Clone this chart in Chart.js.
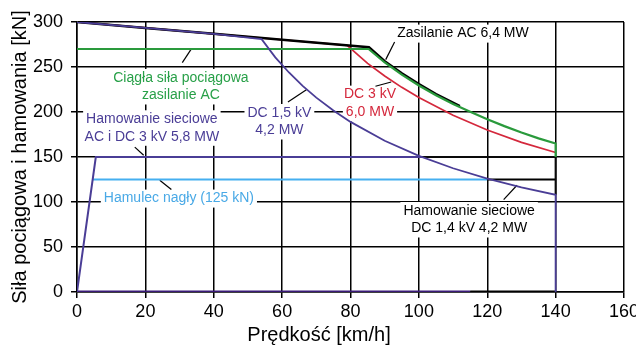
<!DOCTYPE html>
<html>
<head>
<meta charset="utf-8">
<script src="https://cdn.jsdelivr.net/npm/chart.js@4.4.0/dist/chart.umd.min.js"></script>
<style>
  html, body { margin: 0; padding: 0; background: #fff; }
</style>
</head>
<body>
<canvas id="myChart" width="636" height="346"></canvas>
<script>
// Zasilanie AC 6,4 MW (black)
const acSpeed = [0, 20, 40, 60, 85.4, 90, 95, 100, 105, 112];
const acForce = [300, 293.4, 286.9, 280.3, 272, 256.5, 243, 231, 220, 206.5];

// Ciągła siła pociągowa, zasilanie AC (green)
const acContSpeed = [0, 85.3, 90, 95, 100, 105, 110, 115, 120, 125, 130, 135, 140, 140];
const acContForce = [270, 270, 255, 241.5, 229.4, 218.6, 209, 200.3, 192, 184.3, 177.2, 170.7, 165, 150];

// DC 3 kV 6,0 MW (red)
const dc3Speed = [0, 20, 40, 60, 79, 85, 90, 95, 100, 110, 120, 130, 140];
const dc3Force = [300, 293.4, 286.9, 280.3, 274, 254, 240, 227.4, 216, 196.4, 180, 166.2, 155];

// DC 1,5 kV 4,2 MW (purple)
const dc15Speed = [0, 20, 40, 54, 58, 62, 66, 70, 75, 80, 90, 100, 110, 120, 130, 140, 140];
const dc15Force = [300, 293.4, 286.9, 281, 260.7, 243.9, 229.1, 216, 201.6, 189, 168, 151.2, 137.5, 126, 116.3, 108, 0];

// Hamowanie sieciowe AC i DC 3 kV 5,8 MW (purple)
const brakeSpeed = [0, 5.5, 101];
const brakeForce = [0, 150, 150];

// zero line
const zeroSpeed = [0, 115];
const zeroForce = [0, 0];
const zeroBlackSpeed = [115, 140];
const zeroBlackForce = [0, 0];

// Hamulec nagły (125 kN)
const emergSpeed = [4.6, 120];
const emergForce = [125, 125];

// Hamowanie sieciowe DC 1,4 kV 4,2 MW (black)
const dc14Speed = [101, 140, 140];
const dc14Force = [150, 150, 108];
const dc14LowSpeed = [120, 140];
const dc14LowForce = [125, 125];

// leader lines [x1, y1, x2, y2]
const leaders = [
  [30.8, 254.9, 33.5, 270.4],
  [16.9, 161, 19.5, 151.9],
  [61.7, 211, 67.1, 224.8],
  [87.3, 228.6, 91.9, 233.3],
  [90.3, 258.2, 92.9, 277.8],
  [24.2, 124.1, 27.6, 113.8],
  [124.8, 102.7, 128.7, 118.6],
];

const purple = "#4a3d96";
const green = "#2a9a3c";
const red = "#d4283c";
const lightBlue = "#45aff0";

const notes = [
  { lines: ["Zasilanie AC 6,4 MW"], x: 112.9, y: 287.1, color: "#000" },
  { lines: ["Ciągła siła pociągowa", "zasilanie AC"], x: 30.4, y: 237.8, color: "#28a048" },
  { lines: ["Hamowanie sieciowe", "AC i DC 3 kV 5,8 MW"], x: 21.9, y: 191.9, color: purple },
  { lines: ["DC 1,5 kV", "4,2 MW"], x: 59.2, y: 198.9, color: purple },
  { lines: ["DC 3 kV", "6,0 MW"], x: 85.7, y: 219.3, color: red },
  { lines: ["Hamulec nagły (125 kN)"], x: 29.8, y: 103.8, color: "#49a9e6" },
  { lines: ["Hamowanie sieciowe", "DC 1,4 kV 4,2 MW"], x: 114.7, y: 90, color: "#000" },
];

const FONT = "'Liberation Sans', Arial, sans-serif";

function pts(xs, ys) {
  return xs.map((x, i) => ({ x: x, y: ys[i] }));
}

function series(xs, ys, color, width, order) {
  return {
    data: pts(xs, ys),
    borderColor: color,
    borderWidth: width,
    pointRadius: 0,
    fill: false,
    tension: 0,
    order: order,
  };
}

const datasets = [
  series(acContSpeed, acContForce, green, 2.2, 2),
  series(acSpeed, acForce, "#000", 2.5, 3),
  series(dc3Speed, dc3Force, red, 1.7, 4),
  series(dc15Speed, dc15Force, purple, 1.8, 1),
  series(brakeSpeed, brakeForce, purple, 2, 5),
  series(zeroSpeed, zeroForce, "#3a1a78", 3, 5),
  series(zeroBlackSpeed, zeroBlackForce, "#000", 3, 5),
  series(emergSpeed, emergForce, lightBlue, 2, 5),
  series(dc14Speed, dc14Force, "#0a0a0a", 2, 4),
  series(dc14LowSpeed, dc14LowForce, "#000", 2, 4),
];

leaders.forEach((l) => {
  datasets.push(series([l[0], l[2]], [l[1], l[3]], "#000", 1.2, 6));
});

const notesPlugin = {
  id: "notes",
  beforeDatasetsDraw(chart) {
    const ctx = chart.ctx;
    const xs = chart.scales.x;
    const ys = chart.scales.y;
    ctx.save();
    ctx.font = "14px " + FONT;
    ctx.textAlign = "center";
    ctx.textBaseline = "middle";
    notes.forEach((n) => {
      const px = xs.getPixelForValue(n.x);
      const py = ys.getPixelForValue(n.y);
      n.lines.forEach((t, i) => {
        const w = ctx.measureText(t).width;
        const y = py + i * 17.5;
        ctx.fillStyle = "#fff";
        ctx.fillRect(px - w / 2 - 3, y - 9, w + 6, 18);
        ctx.fillStyle = n.color;
        ctx.fillText(t, px, y);
      });
    });
    ctx.restore();
  },
  afterDraw(chart) {
    const ctx = chart.ctx;
    ctx.save();
    ctx.font = "20px " + FONT;
    ctx.fillStyle = "#000";
    ctx.textAlign = "center";
    ctx.textBaseline = "middle";
    ctx.fillText("Prędkość [km/h]", 319, 335);
    ctx.restore();
  },
};

const ctx = document.getElementById("myChart").getContext("2d");
window.myChart = new Chart(ctx, {
  type: "line",
  data: { datasets: datasets },
  plugins: [notesPlugin],
  options: {
    responsive: false,
    animation: false,
    layout: { padding: { top: 22, right: 12, left: 0, bottom: 0 } },
    plugins: {
      legend: { display: false },
      tooltip: { enabled: false },
    },
    scales: {
      x: {
        type: "linear",
        min: 0,
        max: 160,
        ticks: {
          stepSize: 20,
          color: "#000",
          font: { size: 18, family: FONT },
          padding: 3,
          maxRotation: 0,
        },
        grid: { color: "#000", lineWidth: 1.5, tickLength: 6 },
        border: { color: "#000", width: 1.5 },
        afterFit: function (s) {
          s.height = 54;
          s.paddingRight = 0;
          s.paddingLeft = 0;
        },
      },
      y: {
        min: 0,
        max: 300,
        ticks: {
          stepSize: 50,
          color: "#000",
          font: { size: 18, family: FONT },
          padding: 8,
        },
        grid: { color: "#000", lineWidth: 1.5, tickLength: 6 },
        border: { color: "#000", width: 1.5 },
        title: {
          display: true,
          text: "Siła pociągowa i hamowania [kN]",
          color: "#000",
          font: { size: 20, family: FONT },
          padding: { top: 8, bottom: 0 },
        },
        afterFit: function (s) {
          s.width = 77;
        },
      },
    },
  },
});
</script>
</body>
</html>
